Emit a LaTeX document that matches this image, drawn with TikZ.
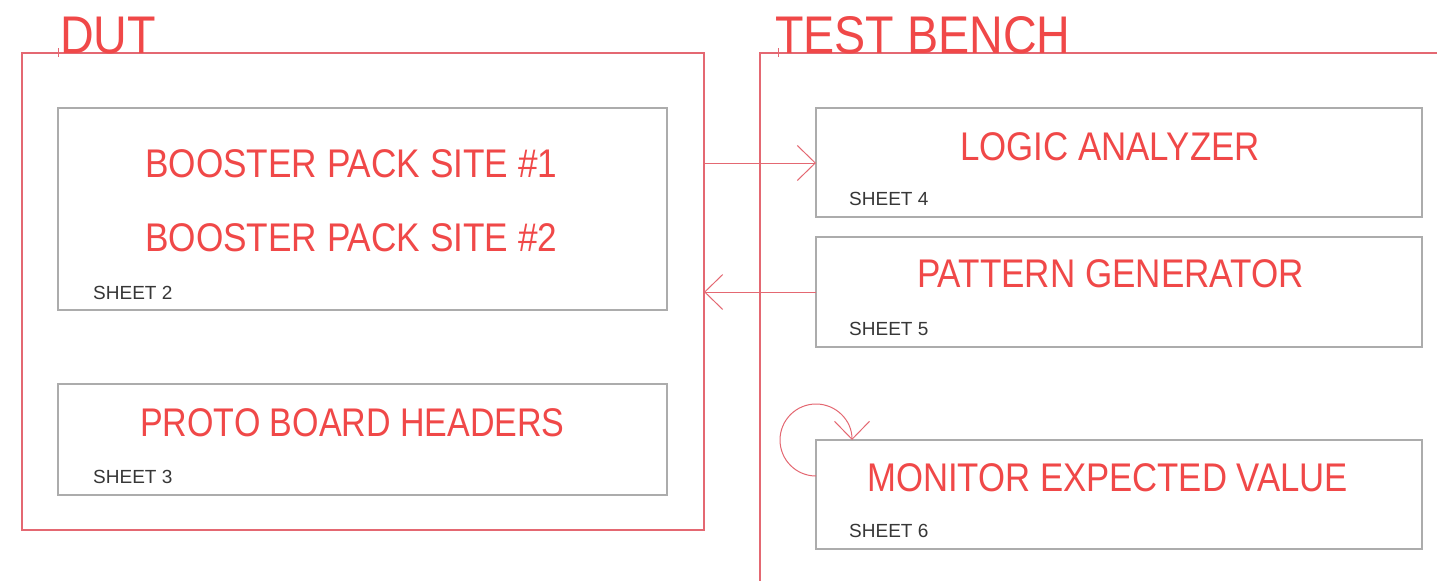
\documentclass[tikz,border=0pt]{standalone}
\usepackage{fontspec}
\usepackage{graphicx}
\newfontfamily\cadfont[FakeStretch=0.88]{Liberation Sans}
\newfontfamily\sheetfont{Liberation Sans}
\usetikzlibrary{arrows.meta}
\definecolor{outerred}{RGB}{228,104,114}
\definecolor{textred}{RGB}{240,72,72}
\definecolor{boxgray}{RGB}{172,172,172}
\definecolor{sheetgray}{RGB}{55,55,55}
\tikzset{
  outerbox/.style={draw=outerred, line width=1.1pt, inner sep=0pt, outer sep=0pt, anchor=north west},
  innerbox/.style={draw=boxgray, line width=1.3pt, inner sep=0pt, outer sep=0pt, anchor=north west},
  bigtext/.style={text=textred, font=\cadfont\fontsize{40}{40}\selectfont, inner sep=0pt, anchor=base west},
  headtext/.style={text=textred, font=\cadfont\fontsize{53}{53}\selectfont, inner sep=0pt, anchor=base west},
  sheettext/.style={text=sheetgray, font=\sheetfont\fontsize{19}{19}\selectfont, inner sep=0pt, anchor=base west},
  arr/.style={draw=outerred, line width=1pt, -{Straight Barb[length=18pt,width=35pt,line width=1pt]}},
  tick/.style={draw=outerred, line width=1pt}
}
\begin{document}
\begin{tikzpicture}[x=1pt,y=-1pt]
\useasboundingbox[fill=white] (0,0) rectangle (1437,581);
% outer boxes
\node[outerbox, minimum width=682pt, minimum height=477pt] (dut) at (22,53) {};
\draw[outerred, line width=1.1pt] (1437,53) -- (760,53) coordinate (tbcorner) -- (760,581);
% headings
\node[headtext] (dutlbl) at (60,53) {DUT};
\node[headtext] (tblbl) at (775,53) {TEST BENCH};
\draw[tick] (58,48) -- (58,57);
\draw[tick] (778,48) -- (778,57);
% DUT inner boxes
\node[innerbox, minimum width=609pt, minimum height=202pt] (boost) at (58,108) {};
\node[innerbox, minimum width=609pt, minimum height=111pt] (proto) at (58,384) {};
% TB inner boxes
\node[innerbox, minimum width=606pt, minimum height=109pt] (la) at (816,108) {};
\node[innerbox, minimum width=606pt, minimum height=110pt] (pg) at (816,237) {};
\node[innerbox, minimum width=606pt, minimum height=109pt] (mon) at (816,440) {};
% texts
\node[bigtext] (b1) at (145,177) {BOOSTER PACK SITE \#1};
\node[bigtext] (b2) at (145,251) {BOOSTER PACK SITE \#2};
\node[sheettext] (s2) at (93,299) {SHEET 2};
\node[bigtext] (pt) at (140,436) {\scalebox{0.966}[1]{PROTO BOARD HEADERS}};
\node[sheettext] (s3) at (93,483) {SHEET 3};
\node[bigtext] (lat) at (960,160) {\scalebox{0.99}[1]{LOGIC ANALYZER}};
\node[sheettext] (s4) at (849,205) {SHEET 4};
\node[bigtext] (pgt) at (917,287) {\scalebox{0.995}[1]{PATTERN GENERATOR}};
\node[sheettext] (s5) at (849,335) {SHEET 5};
\node[bigtext] (mt) at (867,491) {\scalebox{0.986}[1]{MONITOR EXPECTED VALUE}};
\node[sheettext] (s6) at (849,537) {SHEET 6};
% connectors
\coordinate (r1) at (0,163);
\coordinate (r2) at (0,292);
\coordinate (r3) at (0,476);
\draw[arr] (dut.east |- r1) -- (la.west |- r1);
\draw[arr] (pg.west |- r2) -- (dut.east |- r2);
\draw[arr] (mon.west |- r3) arc[start angle=90, end angle=360, radius=36];
\end{tikzpicture}
\end{document}
